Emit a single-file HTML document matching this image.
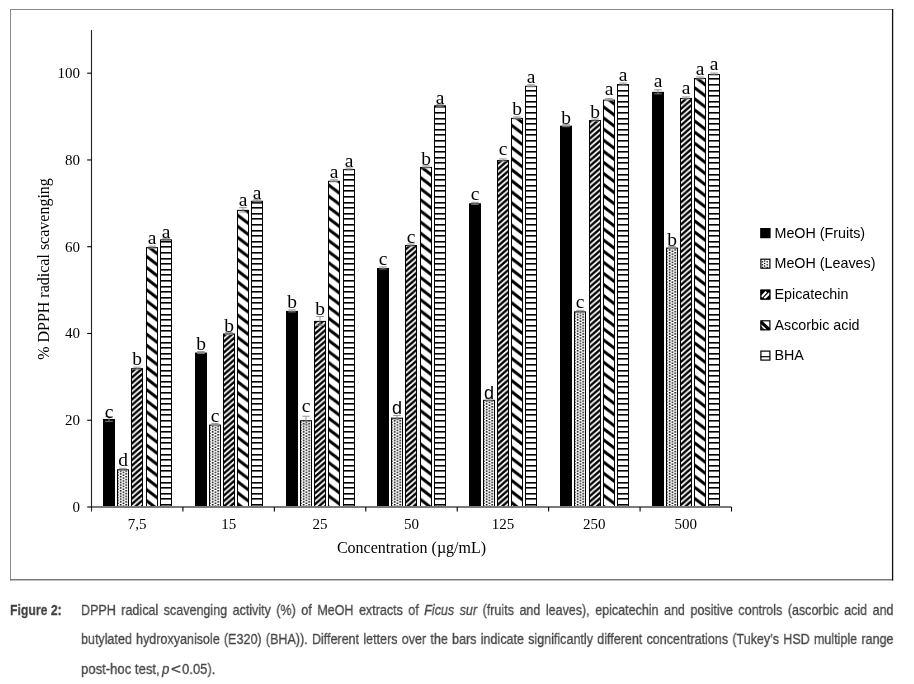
<!DOCTYPE html>
<html><head><meta charset="utf-8"><style>
html,body{margin:0;padding:0;background:#fff;}
body{width:914px;height:684px;position:relative;overflow:hidden;}
svg{position:absolute;left:0;top:0;will-change:transform;}
.cap{will-change:transform;}
.cap{position:absolute;font-family:"Liberation Sans",sans-serif;font-size:15.2px;color:#46464a;-webkit-text-stroke:0.3px #46464a;white-space:nowrap;transform-origin:0 0;line-height:1;}
.lt{font-family:'Liberation Serif',serif;font-size:19.5px;fill:#000;}
.lts{font-family:'Liberation Sans',sans-serif;font-size:18px;fill:#000;}
.just{text-align:justify;text-align-last:justify;white-space:normal;}
</style></head><body>
<svg width="914" height="684" viewBox="0 0 914 684">
<defs>
<pattern id="pDot" patternUnits="userSpaceOnUse" width="5.6" height="2.8" x="0" y="0">
<rect width="5.6" height="2.8" fill="#fff"/>
<rect x="0.9" y="0.2" width="1.1" height="1.1" fill="#222"/>
<rect x="3.7" y="1.6" width="1.1" height="1.1" fill="#222"/>
</pattern>
<pattern id="pEpi" patternUnits="userSpaceOnUse" width="6.322" height="5.5" x="0" y="0">
<rect width="6.322" height="5.5" fill="#000"/>
<path d="M-6.322,5.5 L12.644,-11.0 M-6.322,11.0 L12.644,-5.5 M-6.322,16.5 L12.644,0" stroke="#fff" stroke-width="1.85"/>
</pattern>
<pattern id="pAsc" patternUnits="userSpaceOnUse" width="14.5" height="11.1" x="0" y="0">
<rect width="14.5" height="11.1" fill="#fff"/>
<path d="M-14.5,-11.1 L29,22.2 M-14.5,0 L14.5,22.2 M0,-11.1 L29,11.1" stroke="#000" stroke-width="3.1"/>
</pattern>
<pattern id="pBha" patternUnits="userSpaceOnUse" width="20" height="28" x="0" y="0">
<rect width="20" height="28" fill="#fff"/>
<rect y="0" width="20" height="1.6" fill="#000"/>
<rect y="6" width="20" height="1.6" fill="#000"/>
<rect y="11" width="20" height="1.6" fill="#000"/>
<rect y="17" width="20" height="1.6" fill="#000"/>
<rect y="22" width="20" height="1.6" fill="#000"/>
</pattern>
<pattern id="pDot0" patternUnits="userSpaceOnUse" width="5.6" height="2.8" x="119.80" y="0"><rect width="5.6" height="2.8" fill="#fff"/><rect x="0" y="0" width="1.6" height="1.5" fill="#000"/><rect x="2.8" y="1.4" width="1.6" height="1.5" fill="#000"/></pattern>
<pattern id="pDot1" patternUnits="userSpaceOnUse" width="5.6" height="2.8" x="211.80" y="0"><rect width="5.6" height="2.8" fill="#fff"/><rect x="0" y="0" width="1.6" height="1.5" fill="#000"/><rect x="2.8" y="1.4" width="1.6" height="1.5" fill="#000"/></pattern>
<pattern id="pDot2" patternUnits="userSpaceOnUse" width="5.6" height="2.8" x="302.80" y="0"><rect width="5.6" height="2.8" fill="#fff"/><rect x="0" y="0" width="1.6" height="1.5" fill="#000"/><rect x="2.8" y="1.4" width="1.6" height="1.5" fill="#000"/></pattern>
<pattern id="pDot3" patternUnits="userSpaceOnUse" width="5.6" height="2.8" x="393.80" y="0"><rect width="5.6" height="2.8" fill="#fff"/><rect x="0" y="0" width="1.6" height="1.5" fill="#000"/><rect x="2.8" y="1.4" width="1.6" height="1.5" fill="#000"/></pattern>
<pattern id="pDot4" patternUnits="userSpaceOnUse" width="5.6" height="2.8" x="485.80" y="0"><rect width="5.6" height="2.8" fill="#fff"/><rect x="0" y="0" width="1.6" height="1.5" fill="#000"/><rect x="2.8" y="1.4" width="1.6" height="1.5" fill="#000"/></pattern>
<pattern id="pDot5" patternUnits="userSpaceOnUse" width="5.6" height="2.8" x="576.80" y="0"><rect width="5.6" height="2.8" fill="#fff"/><rect x="0" y="0" width="1.6" height="1.5" fill="#000"/><rect x="2.8" y="1.4" width="1.6" height="1.5" fill="#000"/></pattern>
<pattern id="pDot6" patternUnits="userSpaceOnUse" width="5.6" height="2.8" x="668.80" y="0"><rect width="5.6" height="2.8" fill="#fff"/><rect x="0" y="0" width="1.6" height="1.5" fill="#000"/><rect x="2.8" y="1.4" width="1.6" height="1.5" fill="#000"/></pattern>
<clipPath id="lc0"><rect x="760.30" y="228.00" width="10.2" height="10.2"/></clipPath>
<clipPath id="lc1"><rect x="760.30" y="258.60" width="10.2" height="10.2"/></clipPath>
<clipPath id="lc2"><rect x="760.30" y="289.50" width="10.2" height="10.2"/></clipPath>
<clipPath id="lc3"><rect x="760.30" y="320.20" width="10.2" height="10.2"/></clipPath>
<clipPath id="lc4"><rect x="760.30" y="350.50" width="10.2" height="10.2"/></clipPath>
</defs>
<rect x="0" y="0" width="914" height="684" fill="#fff"/>

<path d="M10.5,9.5 H892" stroke="#8a8a8a" stroke-width="1" fill="none"/>
<path d="M10.5,9 V580.5" stroke="#8a8a8a" stroke-width="1" fill="none"/>
<path d="M10,579.8 H893" stroke="#7a7a7a" stroke-width="1.6" fill="none"/>
<path d="M892.6,9 V580.5" stroke="#111" stroke-width="1.3" fill="none"/>
<rect x="103.50" y="419.44" width="11.00" height="87.56" fill="#000" stroke="#000" stroke-width="1"/>
<path d="M105.20,416.54 H112.80 M109.00,416.54 V421.34 M105.20,421.34 H112.80" stroke="#8c8c8c" stroke-width="0.9" fill="none"/>
<text x="109.00" y="418.20" text-anchor="middle" class="lt">c</text>
<rect x="117.50" y="469.76" width="11.00" height="37.24" fill="url(#pDot0)" stroke="#000" stroke-width="1"/>
<path d="M119.20,468.26 H126.80 M123.00,468.26 V470.26 M119.20,470.26 H126.80" stroke="#8c8c8c" stroke-width="0.9" fill="none"/>
<text x="123.00" y="465.90" text-anchor="middle" class="lt">d</text>
<rect x="131.50" y="368.68" width="11.00" height="138.32" fill="url(#pEpi)" stroke="#000" stroke-width="1"/>
<path d="M133.20,367.18 H140.80 M137.00,367.18 V369.18 M133.20,369.18 H140.80" stroke="#8c8c8c" stroke-width="0.9" fill="none"/>
<text x="137.00" y="365.20" text-anchor="middle" class="lt">b</text>
<rect x="146.50" y="247.65" width="11.00" height="259.35" fill="url(#pAsc)" stroke="#000" stroke-width="1"/>
<path d="M148.20,246.15 H155.80 M152.00,246.15 V248.15 M148.20,248.15 H155.80" stroke="#8c8c8c" stroke-width="0.9" fill="none"/>
<text x="152.00" y="244.00" text-anchor="middle" class="lt">a</text>
<rect x="160.50" y="239.85" width="11.00" height="267.15" fill="url(#pBha)" stroke="#000" stroke-width="1"/>
<path d="M162.20,238.35 H169.80 M166.00,238.35 V240.35 M162.20,240.35 H169.80" stroke="#8c8c8c" stroke-width="0.9" fill="none"/>
<text x="166.00" y="238.10" text-anchor="middle" class="lt">a</text>
<rect x="195.50" y="353.07" width="11.00" height="153.93" fill="#000" stroke="#000" stroke-width="1"/>
<path d="M197.20,351.57 H204.80 M201.00,351.57 V353.57 M197.20,353.57 H204.80" stroke="#8c8c8c" stroke-width="0.9" fill="none"/>
<text x="201.00" y="349.50" text-anchor="middle" class="lt">b</text>
<rect x="209.50" y="425.08" width="11.00" height="81.92" fill="url(#pDot1)" stroke="#000" stroke-width="1"/>
<path d="M211.20,423.58 H218.80 M215.00,423.58 V425.58 M211.20,425.58 H218.80" stroke="#8c8c8c" stroke-width="0.9" fill="none"/>
<text x="215.00" y="421.80" text-anchor="middle" class="lt">c</text>
<rect x="223.50" y="333.98" width="11.00" height="173.02" fill="url(#pEpi)" stroke="#000" stroke-width="1"/>
<path d="M225.20,332.48 H232.80 M229.00,332.48 V334.48 M225.20,334.48 H232.80" stroke="#8c8c8c" stroke-width="0.9" fill="none"/>
<text x="229.00" y="331.80" text-anchor="middle" class="lt">b</text>
<rect x="237.50" y="210.35" width="11.00" height="296.65" fill="url(#pAsc)" stroke="#000" stroke-width="1"/>
<path d="M239.20,207.65 H246.80 M243.00,207.65 V212.05 M239.20,212.05 H246.80" stroke="#8c8c8c" stroke-width="0.9" fill="none"/>
<text x="243.00" y="205.70" text-anchor="middle" class="lt">a</text>
<rect x="251.50" y="201.24" width="11.00" height="305.76" fill="url(#pBha)" stroke="#000" stroke-width="1"/>
<path d="M253.20,199.74 H260.80 M257.00,199.74 V201.74 M253.20,201.74 H260.80" stroke="#8c8c8c" stroke-width="0.9" fill="none"/>
<text x="257.00" y="198.90" text-anchor="middle" class="lt">a</text>
<rect x="286.50" y="311.42" width="11.00" height="195.58" fill="#000" stroke="#000" stroke-width="1"/>
<path d="M288.20,309.92 H295.80 M292.00,309.92 V311.92 M288.20,311.92 H295.80" stroke="#8c8c8c" stroke-width="0.9" fill="none"/>
<text x="292.00" y="308.10" text-anchor="middle" class="lt">b</text>
<rect x="300.50" y="420.74" width="11.00" height="86.26" fill="url(#pDot2)" stroke="#000" stroke-width="1"/>
<path d="M302.20,416.24 H309.80 M306.00,416.24 V424.24 M302.20,424.24 H309.80" stroke="#8c8c8c" stroke-width="0.9" fill="none"/>
<text x="306.00" y="412.20" text-anchor="middle" class="lt">c</text>
<rect x="314.50" y="321.40" width="11.00" height="185.60" fill="url(#pEpi)" stroke="#000" stroke-width="1"/>
<path d="M316.20,316.50 H323.80 M320.00,316.50 V325.30 M316.20,325.30 H323.80" stroke="#8c8c8c" stroke-width="0.9" fill="none"/>
<text x="320.00" y="314.90" text-anchor="middle" class="lt">b</text>
<rect x="328.50" y="181.28" width="11.00" height="325.72" fill="url(#pAsc)" stroke="#000" stroke-width="1"/>
<path d="M330.20,179.78 H337.80 M334.00,179.78 V181.78 M330.20,181.78 H337.80" stroke="#8c8c8c" stroke-width="0.9" fill="none"/>
<text x="334.00" y="178.40" text-anchor="middle" class="lt">a</text>
<rect x="343.50" y="169.57" width="11.00" height="337.43" fill="url(#pBha)" stroke="#000" stroke-width="1"/>
<path d="M345.20,168.07 H352.80 M349.00,168.07 V170.07 M345.20,170.07 H352.80" stroke="#8c8c8c" stroke-width="0.9" fill="none"/>
<text x="349.00" y="166.50" text-anchor="middle" class="lt">a</text>
<rect x="377.50" y="268.48" width="11.00" height="238.52" fill="#000" stroke="#000" stroke-width="1"/>
<path d="M379.20,266.98 H386.80 M383.00,266.98 V268.98 M379.20,268.98 H386.80" stroke="#8c8c8c" stroke-width="0.9" fill="none"/>
<text x="383.00" y="265.00" text-anchor="middle" class="lt">c</text>
<rect x="391.50" y="418.14" width="11.00" height="88.86" fill="url(#pDot3)" stroke="#000" stroke-width="1"/>
<path d="M393.20,415.44 H400.80 M397.00,415.44 V419.84 M393.20,419.84 H400.80" stroke="#8c8c8c" stroke-width="0.9" fill="none"/>
<text x="397.00" y="413.70" text-anchor="middle" class="lts">d</text>
<rect x="405.50" y="245.48" width="11.00" height="261.52" fill="url(#pEpi)" stroke="#000" stroke-width="1"/>
<path d="M407.20,243.98 H414.80 M411.00,243.98 V245.98 M407.20,245.98 H414.80" stroke="#8c8c8c" stroke-width="0.9" fill="none"/>
<text x="411.00" y="242.70" text-anchor="middle" class="lt">c</text>
<rect x="420.50" y="167.40" width="11.00" height="339.60" fill="url(#pAsc)" stroke="#000" stroke-width="1"/>
<path d="M422.20,165.90 H429.80 M426.00,165.90 V167.90 M422.20,167.90 H429.80" stroke="#8c8c8c" stroke-width="0.9" fill="none"/>
<text x="426.00" y="164.50" text-anchor="middle" class="lt">b</text>
<rect x="434.50" y="105.80" width="11.00" height="401.20" fill="url(#pBha)" stroke="#000" stroke-width="1"/>
<path d="M436.20,104.30 H443.80 M440.00,104.30 V106.30 M436.20,106.30 H443.80" stroke="#8c8c8c" stroke-width="0.9" fill="none"/>
<text x="440.00" y="104.00" text-anchor="middle" class="lt">a</text>
<rect x="469.50" y="203.84" width="11.00" height="303.16" fill="#000" stroke="#000" stroke-width="1"/>
<path d="M471.20,202.34 H478.80 M475.00,202.34 V204.34 M471.20,204.34 H478.80" stroke="#8c8c8c" stroke-width="0.9" fill="none"/>
<text x="475.00" y="199.90" text-anchor="middle" class="lt">c</text>
<rect x="483.50" y="400.35" width="11.00" height="106.65" fill="url(#pDot4)" stroke="#000" stroke-width="1"/>
<path d="M485.20,398.85 H492.80 M489.00,398.85 V400.85 M485.20,400.85 H492.80" stroke="#8c8c8c" stroke-width="0.9" fill="none"/>
<text x="489.00" y="398.80" text-anchor="middle" class="lts">d</text>
<rect x="497.50" y="160.46" width="11.00" height="346.54" fill="url(#pEpi)" stroke="#000" stroke-width="1"/>
<path d="M499.20,158.96 H506.80 M503.00,158.96 V160.96 M499.20,160.96 H506.80" stroke="#8c8c8c" stroke-width="0.9" fill="none"/>
<text x="503.00" y="154.60" text-anchor="middle" class="lt">c</text>
<rect x="511.50" y="118.38" width="11.00" height="388.62" fill="url(#pAsc)" stroke="#000" stroke-width="1"/>
<path d="M513.20,116.88 H520.80 M517.00,116.88 V118.88 M513.20,118.88 H520.80" stroke="#8c8c8c" stroke-width="0.9" fill="none"/>
<text x="517.00" y="115.20" text-anchor="middle" class="lt">b</text>
<rect x="525.50" y="86.28" width="11.00" height="420.72" fill="url(#pBha)" stroke="#000" stroke-width="1"/>
<path d="M527.20,84.78 H534.80 M531.00,84.78 V86.78 M527.20,86.78 H534.80" stroke="#8c8c8c" stroke-width="0.9" fill="none"/>
<text x="531.00" y="83.30" text-anchor="middle" class="lt">a</text>
<rect x="560.50" y="126.19" width="11.00" height="380.81" fill="#000" stroke="#000" stroke-width="1"/>
<path d="M562.20,124.69 H569.80 M566.00,124.69 V126.69 M562.20,126.69 H569.80" stroke="#8c8c8c" stroke-width="0.9" fill="none"/>
<text x="566.00" y="123.50" text-anchor="middle" class="lt">b</text>
<rect x="574.50" y="311.86" width="11.00" height="195.14" fill="url(#pDot5)" stroke="#000" stroke-width="1"/>
<path d="M576.20,310.36 H583.80 M580.00,310.36 V312.36 M576.20,312.36 H583.80" stroke="#8c8c8c" stroke-width="0.9" fill="none"/>
<text x="580.00" y="307.70" text-anchor="middle" class="lt">c</text>
<rect x="589.50" y="120.55" width="11.00" height="386.45" fill="url(#pEpi)" stroke="#000" stroke-width="1"/>
<path d="M591.20,119.05 H598.80 M595.00,119.05 V121.05 M591.20,121.05 H598.80" stroke="#8c8c8c" stroke-width="0.9" fill="none"/>
<text x="595.00" y="118.20" text-anchor="middle" class="lt">b</text>
<rect x="603.50" y="100.16" width="11.00" height="406.84" fill="url(#pAsc)" stroke="#000" stroke-width="1"/>
<path d="M605.20,98.66 H612.80 M609.00,98.66 V100.66 M605.20,100.66 H612.80" stroke="#8c8c8c" stroke-width="0.9" fill="none"/>
<text x="609.00" y="95.40" text-anchor="middle" class="lt">a</text>
<rect x="617.50" y="84.55" width="11.00" height="422.45" fill="url(#pBha)" stroke="#000" stroke-width="1"/>
<path d="M619.20,83.05 H626.80 M623.00,83.05 V85.05 M619.20,85.05 H626.80" stroke="#8c8c8c" stroke-width="0.9" fill="none"/>
<text x="623.00" y="81.40" text-anchor="middle" class="lt">a</text>
<rect x="652.50" y="92.35" width="11.00" height="414.65" fill="#000" stroke="#000" stroke-width="1"/>
<path d="M654.20,89.85 H661.80 M658.00,89.85 V93.85 M654.20,93.85 H661.80" stroke="#8c8c8c" stroke-width="0.9" fill="none"/>
<text x="658.00" y="87.20" text-anchor="middle" class="lt">a</text>
<rect x="666.50" y="248.09" width="11.00" height="258.91" fill="url(#pDot6)" stroke="#000" stroke-width="1"/>
<path d="M668.20,246.59 H675.80 M672.00,246.59 V248.59 M668.20,248.59 H675.80" stroke="#8c8c8c" stroke-width="0.9" fill="none"/>
<text x="672.00" y="245.50" text-anchor="middle" class="lt">b</text>
<rect x="680.50" y="98.43" width="11.00" height="408.57" fill="url(#pEpi)" stroke="#000" stroke-width="1"/>
<path d="M682.20,96.93 H689.80 M686.00,96.93 V98.93 M682.20,98.93 H689.80" stroke="#8c8c8c" stroke-width="0.9" fill="none"/>
<text x="686.00" y="93.60" text-anchor="middle" class="lt">a</text>
<rect x="694.50" y="78.47" width="11.00" height="428.53" fill="url(#pAsc)" stroke="#000" stroke-width="1"/>
<path d="M696.20,76.97 H703.80 M700.00,76.97 V78.97 M696.20,78.97 H703.80" stroke="#8c8c8c" stroke-width="0.9" fill="none"/>
<text x="700.00" y="75.40" text-anchor="middle" class="lt">a</text>
<rect x="708.50" y="74.57" width="11.00" height="432.43" fill="url(#pBha)" stroke="#000" stroke-width="1"/>
<path d="M710.20,73.07 H717.80 M714.00,73.07 V75.07 M710.20,75.07 H717.80" stroke="#8c8c8c" stroke-width="0.9" fill="none"/>
<text x="714.00" y="69.60" text-anchor="middle" class="lt">a</text>
<path d="M91.5,507.0 H731.51" stroke="#7a7a7a" stroke-width="1.8" fill="none"/>
<path d="M91.5,30 V511.5" stroke="#222" stroke-width="1.1" fill="none"/>
<path d="M182.93,507.0 V511.5" stroke="#000" stroke-width="1.1" fill="none"/>
<path d="M274.36,507.0 V511.5" stroke="#000" stroke-width="1.1" fill="none"/>
<path d="M365.79,507.0 V511.5" stroke="#000" stroke-width="1.1" fill="none"/>
<path d="M457.22,507.0 V511.5" stroke="#000" stroke-width="1.1" fill="none"/>
<path d="M548.65,507.0 V511.5" stroke="#000" stroke-width="1.1" fill="none"/>
<path d="M640.08,507.0 V511.5" stroke="#000" stroke-width="1.1" fill="none"/>
<path d="M731.51,507.0 V511.5" stroke="#000" stroke-width="1.1" fill="none"/>
<path d="M87.2,507.00 H91.5" stroke="#000" stroke-width="1.1" fill="none"/>
<text x="80" y="512.00" text-anchor="end" font-family="Liberation Serif" font-size="15" fill="#000">0</text>
<path d="M87.2,420.24 H91.5" stroke="#000" stroke-width="1.1" fill="none"/>
<text x="80" y="425.24" text-anchor="end" font-family="Liberation Serif" font-size="15" fill="#000">20</text>
<path d="M87.2,333.48 H91.5" stroke="#000" stroke-width="1.1" fill="none"/>
<text x="80" y="338.48" text-anchor="end" font-family="Liberation Serif" font-size="15" fill="#000">40</text>
<path d="M87.2,246.72 H91.5" stroke="#000" stroke-width="1.1" fill="none"/>
<text x="80" y="251.72" text-anchor="end" font-family="Liberation Serif" font-size="15" fill="#000">60</text>
<path d="M87.2,159.96 H91.5" stroke="#000" stroke-width="1.1" fill="none"/>
<text x="80" y="164.96" text-anchor="end" font-family="Liberation Serif" font-size="15" fill="#000">80</text>
<path d="M87.2,73.20 H91.5" stroke="#000" stroke-width="1.1" fill="none"/>
<text x="80" y="78.20" text-anchor="end" font-family="Liberation Serif" font-size="15" fill="#000">100</text>
<text x="137.22" y="529" text-anchor="middle" font-family="Liberation Serif" font-size="15" fill="#000">7,5</text>
<text x="228.65" y="529" text-anchor="middle" font-family="Liberation Serif" font-size="15" fill="#000">15</text>
<text x="320.08" y="529" text-anchor="middle" font-family="Liberation Serif" font-size="15" fill="#000">25</text>
<text x="411.50" y="529" text-anchor="middle" font-family="Liberation Serif" font-size="15" fill="#000">50</text>
<text x="502.94" y="529" text-anchor="middle" font-family="Liberation Serif" font-size="15" fill="#000">125</text>
<text x="594.37" y="529" text-anchor="middle" font-family="Liberation Serif" font-size="15" fill="#000">250</text>
<text x="685.80" y="529" text-anchor="middle" font-family="Liberation Serif" font-size="15" fill="#000">500</text>
<text x="411.50" y="552.8" text-anchor="middle" font-family="Liberation Serif" font-size="16" fill="#000">Concentration (µg/mL)</text>
<text transform="translate(48.8,269) rotate(-90)" text-anchor="middle" font-family="Liberation Serif" font-size="16" fill="#000">% DPPH radical scavenging</text>
<g clip-path="url(#lc0)"><rect x="760.3" y="228.0" width="10.2" height="10.2" fill="#000"/></g>
<rect x="760.90" y="228.60" width="9.00" height="9.00" fill="none" stroke="#000" stroke-width="1.2"/>
<text x="774.5" y="237.80" font-family="Liberation Sans" font-size="14.3" fill="#000">MeOH (Fruits)</text>
<g clip-path="url(#lc1)"><rect x="760.3" y="258.6" width="10.2" height="10.2" fill="#fff"/><rect x="761.80" y="261.20" width="1.4" height="1.2" fill="#000"/><rect x="761.80" y="264.20" width="1.4" height="1.2" fill="#000"/><rect x="761.80" y="266.80" width="1.4" height="1.2" fill="#000"/><rect x="763.90" y="260.40" width="1.4" height="1.2" fill="#000"/><rect x="763.90" y="262.90" width="1.4" height="1.2" fill="#000"/><rect x="763.90" y="265.40" width="1.4" height="1.2" fill="#000"/><rect x="766.50" y="261.20" width="1.4" height="1.2" fill="#000"/><rect x="766.50" y="264.20" width="1.4" height="1.2" fill="#000"/><rect x="766.50" y="266.80" width="1.4" height="1.2" fill="#000"/></g>
<rect x="760.90" y="259.20" width="9.00" height="9.00" fill="none" stroke="#000" stroke-width="1.2"/>
<text x="774.5" y="268.40" font-family="Liberation Sans" font-size="14.3" fill="#000">MeOH (Leaves)</text>
<g clip-path="url(#lc2)"><rect x="760.3" y="289.5" width="10.2" height="10.2" fill="#000"/><path d="M761.3,297.0 L766.3,291.7 M764.3,298.5 L769.8,293.0" stroke="#fff" stroke-width="2.2"/></g>
<rect x="760.90" y="290.10" width="9.00" height="9.00" fill="none" stroke="#000" stroke-width="1.2"/>
<text x="774.5" y="299.30" font-family="Liberation Sans" font-size="14.3" fill="#000">Epicatechin</text>
<g clip-path="url(#lc3)"><rect x="760.3" y="320.2" width="10.2" height="10.2" fill="#fff"/><path d="M760.8,321.7 L769.3,329.7" stroke="#000" stroke-width="3.2"/><path d="M760.3,325.2 L765.3,330.2 L760.3,330.2Z" fill="#000"/><path d="M761.5,328.2 L763.8,329.4 L761.5,329.4Z" fill="#fff"/></g>
<rect x="760.90" y="320.80" width="9.00" height="9.00" fill="none" stroke="#000" stroke-width="1.2"/>
<text x="774.5" y="330.00" font-family="Liberation Sans" font-size="14.3" fill="#000">Ascorbic acid</text>
<g clip-path="url(#lc4)"><rect x="760.3" y="350.5" width="10.2" height="10.2" fill="#fff"/><rect x="760.3" y="356.1" width="10.2" height="1.2" fill="#000"/></g>
<rect x="760.90" y="351.10" width="9.00" height="9.00" fill="none" stroke="#000" stroke-width="1.2"/>
<text x="774.5" y="360.30" font-family="Liberation Sans" font-size="14.3" fill="#000">BHA</text>
</svg>
<div class="cap" style="left:10.2px;top:602.3px;font-size:15.5px;font-weight:bold;transform:scaleX(0.79);color:#3e3e40">Figure 2:</div>
<div class="cap just" style="left:81.2px;top:602.0px;width:984.8px;transform:scaleX(0.825)">DPPH radical scavenging activity (%) of MeOH extracts of <i>Ficus sur</i> (fruits and leaves), epicatechin and positive controls (ascorbic acid and</div>
<div class="cap just" style="left:81.2px;top:631.2px;width:984.8px;transform:scaleX(0.825)">butylated hydroxyanisole (E320) (BHA)). Different letters over the bars indicate significantly different concentrations (Tukey’s HSD multiple range</div>
<div class="cap" style="left:81.2px;top:661.3px;transform:scaleX(0.862)">post-hoc test,</div>
<div class="cap" style="left:162.3px;top:661.3px;transform:scaleX(0.86)"><i>p</i></div>
<div class="cap" style="left:170.6px;top:661.3px;transform:scaleX(1.12)">&lt;</div>
<div class="cap" style="left:182.1px;top:661.3px;transform:scaleX(0.86)">0.05).</div>
</body></html>
